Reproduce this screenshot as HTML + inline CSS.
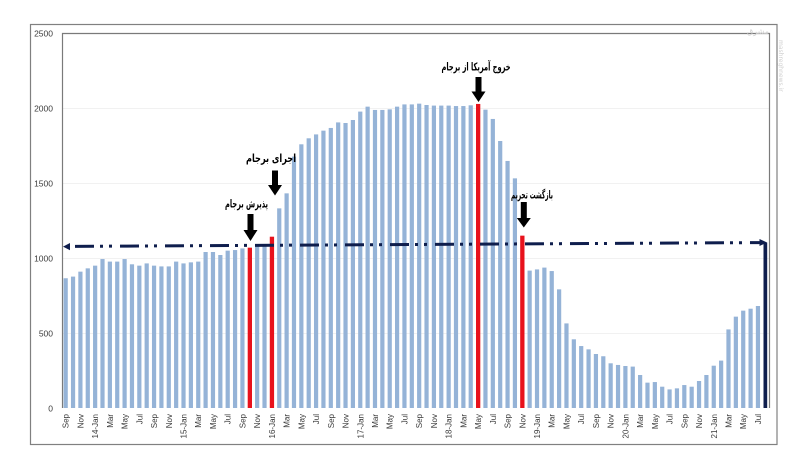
<!DOCTYPE html>
<html><head><meta charset="utf-8">
<style>
html,body{margin:0;padding:0;background:#fff;}
svg{display:block;}
.yl{font-family:"Liberation Sans",sans-serif;font-size:8.5px;fill:#3a3a3a;}
.xl{font-family:"Liberation Sans",sans-serif;font-size:8px;fill:#3a3a3a;}
.ar{font-family:"DejaVu Sans",sans-serif;font-weight:bold;font-size:11px;fill:#000;}
</style></head>
<body>
<svg width="800" height="460" viewBox="0 0 800 460" xmlns="http://www.w3.org/2000/svg">
<rect x="0" y="0" width="800" height="460" fill="#fff"/>
<rect x="30.5" y="24.5" width="746.5" height="420" fill="none" stroke="#808080" stroke-width="1.2"/>
<g stroke="#f1f1f1" stroke-width="1">
<line x1="62" y1="108.5" x2="769" y2="108.5"/>
<line x1="62" y1="183.5" x2="769" y2="183.5"/>
<line x1="62" y1="258.5" x2="769" y2="258.5"/>
<line x1="62" y1="333.5" x2="769" y2="333.5"/>
</g>
<path d="M62.5 408 V33.5 H769.5 V408" fill="none" stroke="#7a7a7a" stroke-width="1.2"/>
<g class="yl" text-anchor="end">
<text x="53" y="36.5">2500</text>
<text x="53" y="111.5">2000</text>
<text x="53" y="186.5">1500</text>
<text x="53" y="261.5">1000</text>
<text x="53" y="336.5">500</text>
<text x="53" y="411.5">0</text>
</g>
<g fill="#95b3d7">
<rect x="63.58" y="278.25" width="4.2" height="129.75"/>
<rect x="70.95" y="276.6" width="4.2" height="131.4"/>
<rect x="78.31" y="271.65" width="4.2" height="136.35"/>
<rect x="85.67" y="268.35" width="4.2" height="139.65"/>
<rect x="93.04" y="265.65" width="4.2" height="142.35"/>
<rect x="100.40" y="259.05" width="4.2" height="148.95"/>
<rect x="107.77" y="261.6" width="4.2" height="146.4"/>
<rect x="115.13" y="261.6" width="4.2" height="146.4"/>
<rect x="122.50" y="259.05" width="4.2" height="148.95"/>
<rect x="129.86" y="264.3" width="4.2" height="143.7"/>
<rect x="137.23" y="265.65" width="4.2" height="142.35"/>
<rect x="144.59" y="263.4" width="4.2" height="144.6"/>
<rect x="151.96" y="265.65" width="4.2" height="142.35"/>
<rect x="159.32" y="266.4" width="4.2" height="141.6"/>
<rect x="166.68" y="266.4" width="4.2" height="141.6"/>
<rect x="174.05" y="261.6" width="4.2" height="146.4"/>
<rect x="181.41" y="263.4" width="4.2" height="144.6"/>
<rect x="188.78" y="262.35" width="4.2" height="145.65"/>
<rect x="196.14" y="261.6" width="4.2" height="146.4"/>
<rect x="203.51" y="252" width="4.2" height="156"/>
<rect x="210.87" y="252" width="4.2" height="156"/>
<rect x="218.24" y="255" width="4.2" height="153"/>
<rect x="225.60" y="250.65" width="4.2" height="157.35"/>
<rect x="232.97" y="250.05" width="4.2" height="157.95"/>
<rect x="240.33" y="248.4" width="4.2" height="159.6"/>
<rect x="255.06" y="246" width="4.2" height="162"/>
<rect x="262.42" y="246" width="4.2" height="162"/>
<rect x="277.15" y="208.35" width="4.2" height="199.65"/>
<rect x="284.52" y="193.35" width="4.2" height="214.65"/>
<rect x="291.88" y="156.6" width="4.2" height="251.4"/>
<rect x="299.25" y="144.3" width="4.2" height="263.7"/>
<rect x="306.61" y="138.3" width="4.2" height="269.7"/>
<rect x="313.98" y="134.4" width="4.2" height="273.6"/>
<rect x="321.34" y="130.65" width="4.2" height="277.35"/>
<rect x="328.71" y="127.95" width="4.2" height="280.05"/>
<rect x="336.07" y="122.4" width="4.2" height="285.6"/>
<rect x="343.43" y="123" width="4.2" height="285"/>
<rect x="350.80" y="120" width="4.2" height="288"/>
<rect x="358.16" y="111.6" width="4.2" height="296.4"/>
<rect x="365.53" y="106.65" width="4.2" height="301.35"/>
<rect x="372.89" y="109.95" width="4.2" height="298.05"/>
<rect x="380.26" y="109.95" width="4.2" height="298.05"/>
<rect x="387.62" y="109.35" width="4.2" height="298.65"/>
<rect x="394.99" y="106.65" width="4.2" height="301.35"/>
<rect x="402.35" y="104.4" width="4.2" height="303.6"/>
<rect x="409.72" y="104.4" width="4.2" height="303.6"/>
<rect x="417.08" y="103.65" width="4.2" height="304.35"/>
<rect x="424.45" y="105" width="4.2" height="303"/>
<rect x="431.81" y="105.6" width="4.2" height="302.4"/>
<rect x="439.17" y="105.6" width="4.2" height="302.4"/>
<rect x="446.54" y="105.6" width="4.2" height="302.4"/>
<rect x="453.90" y="106.05" width="4.2" height="301.95"/>
<rect x="461.27" y="106.05" width="4.2" height="301.95"/>
<rect x="468.63" y="105.3" width="4.2" height="302.7"/>
<rect x="483.36" y="109.65" width="4.2" height="298.35"/>
<rect x="490.73" y="118.95" width="4.2" height="289.05"/>
<rect x="498.09" y="141" width="4.2" height="267"/>
<rect x="505.46" y="160.95" width="4.2" height="247.05"/>
<rect x="512.82" y="178.35" width="4.2" height="229.65"/>
<rect x="527.55" y="270.6" width="4.2" height="137.4"/>
<rect x="534.91" y="269.4" width="4.2" height="138.6"/>
<rect x="542.28" y="267.6" width="4.2" height="140.4"/>
<rect x="549.64" y="271.05" width="4.2" height="136.95"/>
<rect x="557.01" y="289.35" width="4.2" height="118.65"/>
<rect x="564.37" y="323.4" width="4.2" height="84.6"/>
<rect x="571.74" y="339.3" width="4.2" height="68.7"/>
<rect x="579.10" y="346.05" width="4.2" height="61.95"/>
<rect x="586.47" y="349.35" width="4.2" height="58.65"/>
<rect x="593.83" y="354" width="4.2" height="54"/>
<rect x="601.20" y="356.25" width="4.2" height="51.75"/>
<rect x="608.56" y="363.3" width="4.2" height="44.7"/>
<rect x="615.93" y="364.95" width="4.2" height="43.05"/>
<rect x="623.29" y="366" width="4.2" height="42"/>
<rect x="630.65" y="366.6" width="4.2" height="41.4"/>
<rect x="638.02" y="375" width="4.2" height="33"/>
<rect x="645.38" y="382.65" width="4.2" height="25.35"/>
<rect x="652.75" y="382.05" width="4.2" height="25.95"/>
<rect x="660.11" y="386.7" width="4.2" height="21.3"/>
<rect x="667.48" y="389.4" width="4.2" height="18.6"/>
<rect x="674.84" y="388.35" width="4.2" height="19.65"/>
<rect x="682.21" y="385.05" width="4.2" height="22.95"/>
<rect x="689.57" y="386.7" width="4.2" height="21.3"/>
<rect x="696.94" y="381" width="4.2" height="27"/>
<rect x="704.30" y="375" width="4.2" height="33"/>
<rect x="711.66" y="365.7" width="4.2" height="42.3"/>
<rect x="719.03" y="360.6" width="4.2" height="47.4"/>
<rect x="726.39" y="329.4" width="4.2" height="78.6"/>
<rect x="733.76" y="316.65" width="4.2" height="91.35"/>
<rect x="741.12" y="310.65" width="4.2" height="97.35"/>
<rect x="748.49" y="308.7" width="4.2" height="99.3"/>
<rect x="755.85" y="306" width="4.2" height="102"/>
</g>
<g fill="#e8121c">
<rect x="247.70" y="247.65" width="4.3" height="160.35"/>
<rect x="269.79" y="236.7" width="4.3" height="171.3"/>
<rect x="476.00" y="103.95" width="4.3" height="304.05"/>
<rect x="520.19" y="235.65" width="4.3" height="172.35"/>
</g>
<path d="M68 246.4 L760 242.6" fill="none" stroke="#0f1e4d" stroke-width="3" stroke-dasharray="19 6 3 6 3 8" stroke-dashoffset="38"/>
<polygon points="63,246.6 70,243 70,250.2" fill="#0f1e4d"/>
<polygon points="767,242.5 759.5,239 759.5,246" fill="#0f1e4d"/>
<rect x="763.5" y="242.5" width="3.7" height="165.5" fill="#0f1e4d"/>
<g fill="#000">
<polygon points="247.5,214 253.5,214 253.5,230 257.5,230 250.5,241 243.5,230 247.5,230"/>
<polygon points="272,170.5 278,170.5 278,185 282,185 275,195.5 268,185 272,185"/>
<polygon points="475.5,77 481.5,77 481.5,91.5 485.5,91.5 478.5,102 471.5,91.5 475.5,91.5"/>
<polygon points="520.8,202 526.8,202 526.8,218 530.8,218 523.8,227.5 516.8,218 520.8,218"/>
</g>
<g class="ar" text-anchor="middle" direction="rtl">
<text x="271" y="162" textLength="50" lengthAdjust="spacingAndGlyphs">اجرای برجام</text>
<text x="246.5" y="207.5" textLength="43" lengthAdjust="spacingAndGlyphs">پذیرش برجام</text>
<text x="476" y="70.5" textLength="69" lengthAdjust="spacingAndGlyphs">خروج آمریکا از برجام</text>
<text x="532" y="198.5" textLength="42" lengthAdjust="spacingAndGlyphs">بازگشت تحریم</text>
</g>
<g font-family="DejaVu Sans,sans-serif" fill="#d0d0d0" font-size="8">
<text x="747" y="34">مشرق</text>
<text transform="translate(779,40) rotate(90)" font-size="6">mashreghnews.ir</text>
</g>
<g class="xl" text-anchor="end">
<text transform="translate(68.68,414) rotate(-90)">Sep</text>
<text transform="translate(83.41,414) rotate(-90)">Nov</text>
<text transform="translate(98.14,414) rotate(-90)">14-Jan</text>
<text transform="translate(112.87,414) rotate(-90)">Mar</text>
<text transform="translate(127.60,414) rotate(-90)">May</text>
<text transform="translate(142.33,414) rotate(-90)">Jul</text>
<text transform="translate(157.06,414) rotate(-90)">Sep</text>
<text transform="translate(171.78,414) rotate(-90)">Nov</text>
<text transform="translate(186.51,414) rotate(-90)">15-Jan</text>
<text transform="translate(201.24,414) rotate(-90)">Mar</text>
<text transform="translate(215.97,414) rotate(-90)">May</text>
<text transform="translate(230.70,414) rotate(-90)">Jul</text>
<text transform="translate(245.43,414) rotate(-90)">Sep</text>
<text transform="translate(260.16,414) rotate(-90)">Nov</text>
<text transform="translate(274.89,414) rotate(-90)">16-Jan</text>
<text transform="translate(289.62,414) rotate(-90)">Mar</text>
<text transform="translate(304.35,414) rotate(-90)">May</text>
<text transform="translate(319.08,414) rotate(-90)">Jul</text>
<text transform="translate(333.81,414) rotate(-90)">Sep</text>
<text transform="translate(348.54,414) rotate(-90)">Nov</text>
<text transform="translate(363.26,414) rotate(-90)">17-Jan</text>
<text transform="translate(377.99,414) rotate(-90)">Mar</text>
<text transform="translate(392.72,414) rotate(-90)">May</text>
<text transform="translate(407.45,414) rotate(-90)">Jul</text>
<text transform="translate(422.18,414) rotate(-90)">Sep</text>
<text transform="translate(436.91,414) rotate(-90)">Nov</text>
<text transform="translate(451.64,414) rotate(-90)">18-Jan</text>
<text transform="translate(466.37,414) rotate(-90)">Mar</text>
<text transform="translate(481.10,414) rotate(-90)">May</text>
<text transform="translate(495.83,414) rotate(-90)">Jul</text>
<text transform="translate(510.56,414) rotate(-90)">Sep</text>
<text transform="translate(525.29,414) rotate(-90)">Nov</text>
<text transform="translate(540.01,414) rotate(-90)">19-Jan</text>
<text transform="translate(554.74,414) rotate(-90)">Mar</text>
<text transform="translate(569.47,414) rotate(-90)">May</text>
<text transform="translate(584.20,414) rotate(-90)">Jul</text>
<text transform="translate(598.93,414) rotate(-90)">Sep</text>
<text transform="translate(613.66,414) rotate(-90)">Nov</text>
<text transform="translate(628.39,414) rotate(-90)">20-Jan</text>
<text transform="translate(643.12,414) rotate(-90)">Mar</text>
<text transform="translate(657.85,414) rotate(-90)">May</text>
<text transform="translate(672.58,414) rotate(-90)">Jul</text>
<text transform="translate(687.31,414) rotate(-90)">Sep</text>
<text transform="translate(702.03,414) rotate(-90)">Nov</text>
<text transform="translate(716.76,414) rotate(-90)">21-Jan</text>
<text transform="translate(731.49,414) rotate(-90)">Mar</text>
<text transform="translate(746.22,414) rotate(-90)">May</text>
<text transform="translate(760.95,414) rotate(-90)">Jul</text>
</g>
</svg>
</body></html>
